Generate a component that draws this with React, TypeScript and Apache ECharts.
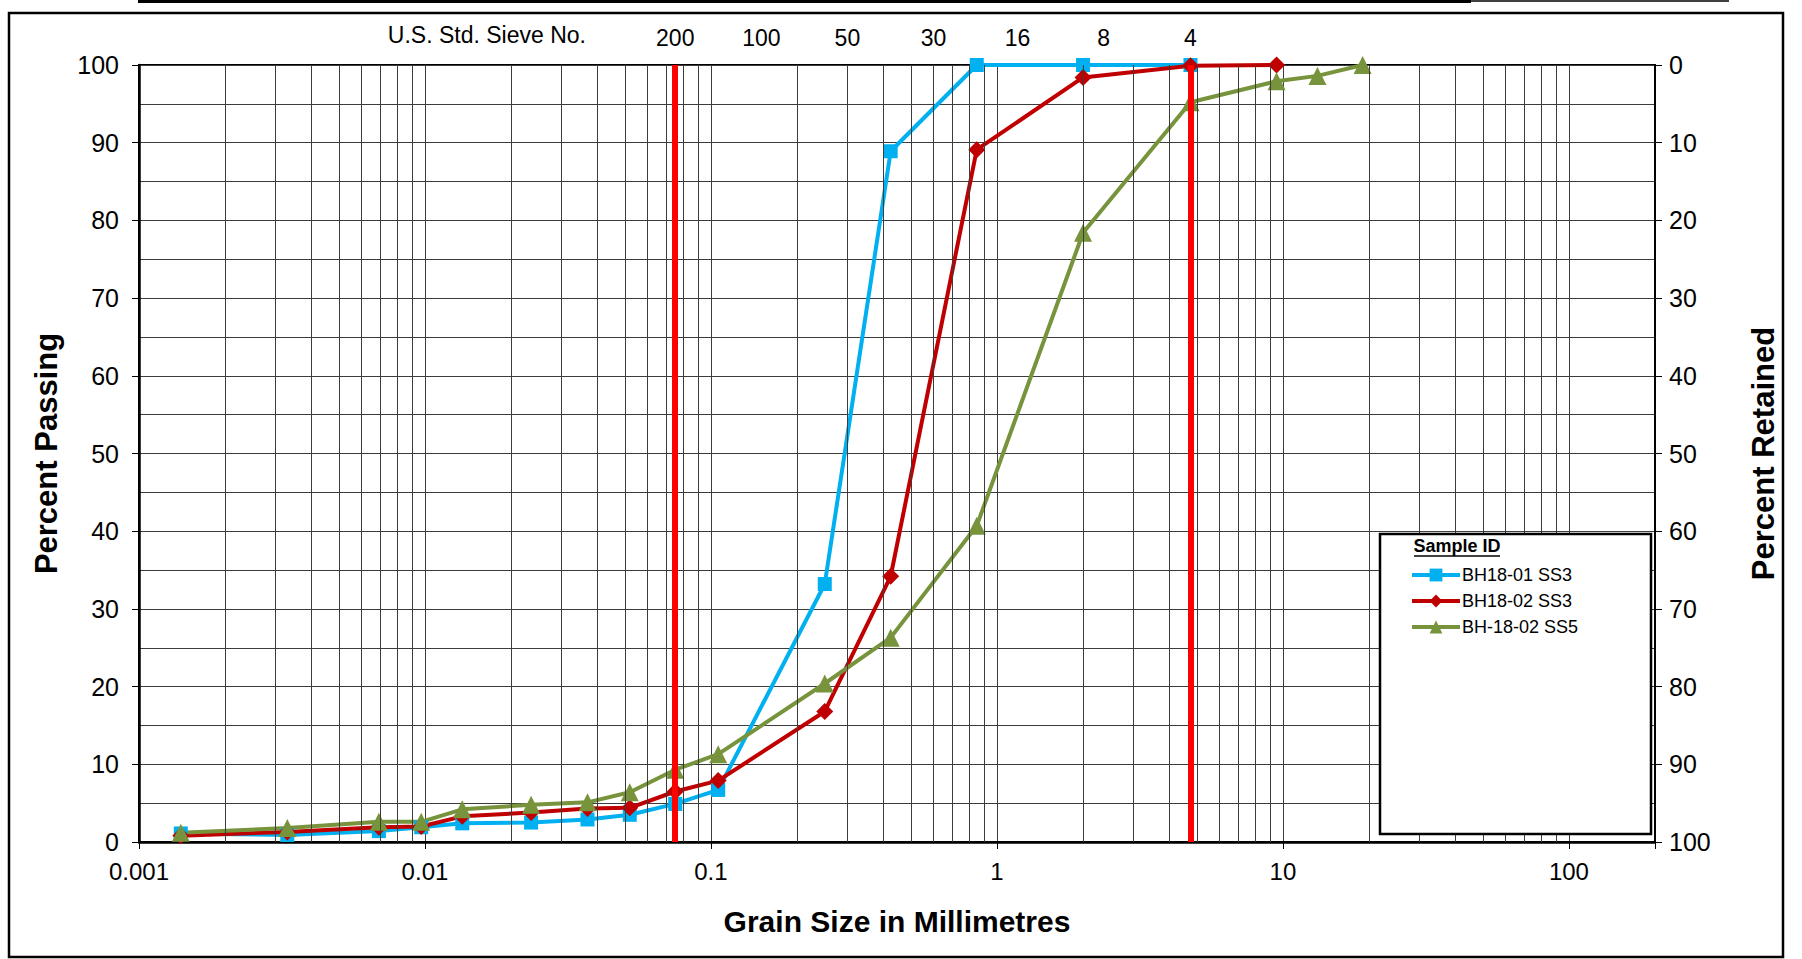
import React, { useEffect, useRef } from 'react';
import * as echarts from 'echarts';

// ---- data ----
const hydroSizes = [0.0014, 0.0033, 0.0069, 0.0097, 0.0135, 0.0235, 0.037, 0.052];
const sieveSizes = [0.075, 0.106, 0.25, 0.425, 0.85, 2.0, 4.75, 9.5, 13.2, 19.0];

const sample1Name = 'BH18-01 SS3';
const sample1Passing = [1.1, 0.9, 1.4, 1.9, 2.4, 2.5, 2.9, 3.5, 4.9, 6.7, 33.2, 88.9, 100, 100, 100];
const sample2Name = 'BH18-02 SS3';
const sample2Passing = [0.8, 1.3, 1.9, 2.0, 3.3, 3.8, 4.3, 4.4, 6.5, 7.9, 16.8, 34.2, 89.1, 98.4, 99.9, 100];
const sample3Name = 'BH-18-02 SS5';
const sample3Passing = [1.2, 1.8, 2.6, 2.6, 4.2, 4.8, 5.1, 6.4, 9.3, 11.3, 20.4, 26.3, 40.7, 78.4, 95.2, 97.9, 98.6, 100];

const sieveNumbers = ['200', '100', '50', '30', '16', '8', '4'];
const sieveOpenings = [0.075, 0.15, 0.3, 0.6, 1.18, 2.36, 4.75];
const boundaryLines = [0.075, 4.75];

const minorMultipliers = [2, 3, 4, 5, 6, 7, 8, 9];
const decades = [0.001, 0.01, 0.1, 1, 10, 100];

const FONT = '"Liberation Sans", Arial, sans-serif';

const allSizes = [...hydroSizes, ...sieveSizes];
const pairs = (vals: number[]) => vals.map((v, i) => [allSizes[i], v]);

export default function App() {
  const ref = useRef<HTMLDivElement>(null);
  useEffect(() => {
    document.body.style.margin = '0';
    const chart = echarts.init(ref.current!, undefined, { renderer: 'svg' });

    const minorGrid: number[] = [];
    decades.forEach((d) => minorMultipliers.forEach((m) => {
      const v = +(d * m).toPrecision(6);
      if (v < 200) minorGrid.push(v);
    }));

    const logFormatter = (v: number) => {
      const e = Math.log10(v);
      if (Math.abs(e - Math.round(e)) > 1e-6) return '';
      return String(+v.toPrecision(6));
    };

    const gridColor = '#3c3c3c';

    const option: any = {
      animation: false,
      backgroundColor: '#ffffff',
      textStyle: { fontFamily: FONT },
      grid: { left: 139, top: 65, right: 147, bottom: 117, show: true, borderColor: '#000', borderWidth: 2 },
      xAxis: {
        type: 'log', logBase: 10, min: 0.001, max: 200,
        name: 'Grain Size in Millimetres', nameLocation: 'middle', nameGap: 64,
        nameTextStyle: { fontSize: 30, fontWeight: 'bold', color: '#000', fontFamily: FONT },
        axisLine: { show: true, lineStyle: { color: '#000', width: 2.5 } },
        axisTick: { show: true, length: 7, lineStyle: { color: '#000', width: 1 } },
        axisLabel: { fontSize: 24, color: '#000', margin: 17, formatter: logFormatter, fontFamily: FONT },
        splitLine: { show: true, lineStyle: { color: gridColor, width: 1 } },
        minorTick: { show: false }, minorSplitLine: { show: false },
      },
      yAxis: [
        {
          type: 'value', min: 0, max: 100, interval: 10, position: 'left',
          name: 'Percent Passing', nameLocation: 'middle', nameGap: 77, nameRotate: 90,
          nameTextStyle: { fontSize: 31, fontWeight: 'bold', color: '#000', fontFamily: FONT },
          axisLine: { show: true, lineStyle: { color: '#000', width: 2.5 } },
          axisTick: { show: true, length: 7, lineStyle: { color: '#000', width: 1 } },
          axisLabel: { fontSize: 25, color: '#000', margin: 20, fontFamily: FONT },
          splitLine: { show: true, lineStyle: { color: gridColor, width: 1 } },
          minorTick: { show: false, splitNumber: 2 },
          minorSplitLine: { show: true, lineStyle: { color: gridColor, width: 1 } },
        },
        {
          type: 'value', min: 0, max: 100, interval: 10, position: 'right', inverse: true,
          name: 'Percent Retained', nameLocation: 'middle', nameGap: 93, nameRotate: 90,
          nameTextStyle: { fontSize: 31, fontWeight: 'bold', color: '#000', fontFamily: FONT },
          axisLine: { show: true, lineStyle: { color: '#000', width: 2 } },
          axisTick: { show: true, length: 7, lineStyle: { color: '#000', width: 1 } },
          axisLabel: { fontSize: 25, color: '#000', margin: 14, fontFamily: FONT },
          splitLine: { show: false },
        },
      ],
      legend: {
        data: [sample1Name, sample2Name, sample3Name],
        orient: 'vertical', left: 1405, top: 561,
        itemWidth: 48, itemHeight: 16, itemGap: 8,
        lineStyle: { width: 4 },
        textStyle: { fontSize: 18, color: '#000', fontFamily: FONT, padding: [0, 0, 0, -3] },
        selectedMode: false, z: 8,
      },
      series: [
        {
          type: 'line', name: '_grid', data: [], silent: true, z: 1,
          markLine: {
            silent: true, symbol: ['none', 'none'], animation: false, precision: 10,
            label: { show: false },
            lineStyle: { color: gridColor, width: 1, type: 'solid' },
            emphasis: { disabled: true },
            data: minorGrid.map((v) => ({ xAxis: v })),
          },
        },
        {
          name: sample1Name, type: 'line', data: pairs(sample1Passing),
          symbol: 'rect', symbolSize: 14, z: 3,
          lineStyle: { color: '#00B0F0', width: 4 }, itemStyle: { color: '#00B0F0' },
        },
        {
          name: sample2Name, type: 'line', data: pairs(sample2Passing),
          symbol: 'diamond', symbolSize: 17, z: 3,
          lineStyle: { color: '#C00000', width: 4 }, itemStyle: { color: '#C00000' },
        },
        {
          name: sample3Name, type: 'line', data: pairs(sample3Passing),
          symbol: 'triangle', symbolSize: 18, z: 3,
          lineStyle: { color: '#77933C', width: 4 }, itemStyle: { color: '#77933C' },
        },
        {
          type: 'line', name: '_sieve', data: [], silent: true, z: 5,
          markLine: {
            silent: true, symbol: ['none', 'none'], animation: false, precision: 10,
            label: { show: true, position: 'end', formatter: '{b}', fontSize: 23, color: '#000', distance: 16, fontFamily: FONT },
            lineStyle: { color: '#FF0000', width: 6, type: 'solid' },
            emphasis: { disabled: true },
            data: sieveOpenings.map((v, i) => ({
              xAxis: v, name: sieveNumbers[i],
              lineStyle: boundaryLines.includes(v)
                ? { color: '#FF0000', width: 6, type: 'solid' }
                : { color: 'rgba(0,0,0,0)', width: 0 },
              label: { color: '#000' },
            })),
          },
        },
      ],
      graphic: [
        { type: 'rect', z: 0, shape: { x: 9, y: 13, width: 1774, height: 944 }, style: { fill: 'transparent', stroke: '#000', lineWidth: 2.5 } },
        { type: 'line', z: 0, shape: { x1: 138, y1: 1.5, x2: 1471, y2: 1.5 }, style: { stroke: '#000', lineWidth: 3 } },
        { type: 'line', z: 0, shape: { x1: 1471, y1: 1, x2: 1729, y2: 1 }, style: { stroke: '#000', lineWidth: 1.5 } },
        { type: 'text', z: 10, x: 586, y: 35, style: { text: 'U.S. Std. Sieve No.', font: `23px ${FONT}`, fill: '#000', align: 'right', verticalAlign: 'middle' } },
        { type: 'rect', z: 6, shape: { x: 1380, y: 534, width: 271, height: 300 }, style: { fill: '#fff', stroke: '#000', lineWidth: 2.5 } },
        { type: 'text', z: 9, x: 1457, y: 546, style: { text: 'Sample ID', font: `bold 18px ${FONT}`, fill: '#000', align: 'center', verticalAlign: 'middle' } },
        { type: 'line', z: 9, shape: { x1: 1414, y1: 556, x2: 1500, y2: 556 }, style: { stroke: '#000', lineWidth: 1.5 } },
      ],
    };
    chart.setOption(option);
    return () => chart.dispose();
  }, []);
  return <div ref={ref} style={{ position: 'absolute', left: 0, top: 0, width: 1802, height: 959 }} />;
}
